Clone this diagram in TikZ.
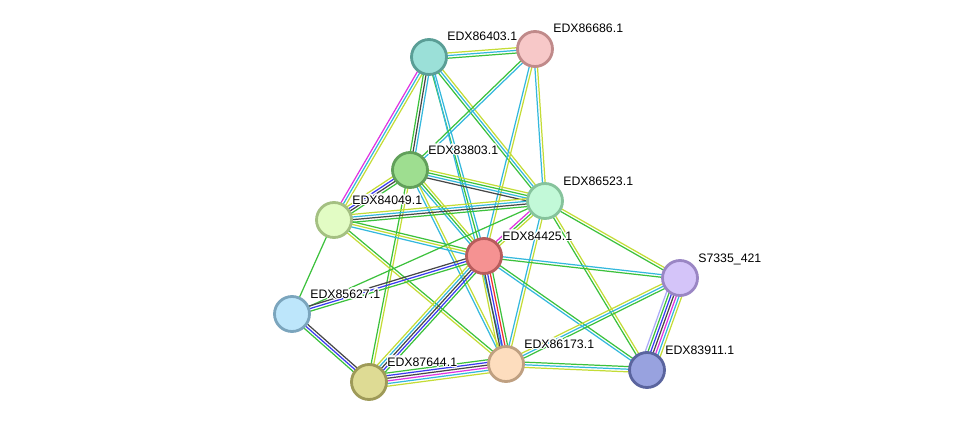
\documentclass[tikz,border=0pt]{standalone}
\usepackage{fontspec}
\setmainfont{Liberation Sans}
\usepackage{contour}
\contourlength{0.7pt}
\usetikzlibrary{calc,backgrounds}

\definecolor{tm}{HTML}{C4DC36}
\definecolor{db}{HTML}{34B8DD}
\definecolor{nb}{HTML}{3CC13C}
\definecolor{co}{HTML}{474747}
\definecolor{ex}{HTML}{E034E0}
\definecolor{oc}{HTML}{3A3AF0}
\definecolor{fu}{HTML}{F0302F}
\definecolor{ho}{HTML}{ABABF8}

\definecolor{f86403}{HTML}{9BE0D8}\definecolor{d86403}{HTML}{5A9E96}
\definecolor{f86686}{HTML}{F7C8C8}\definecolor{d86686}{HTML}{C08A8A}
\definecolor{f83803}{HTML}{9EDE90}\definecolor{d83803}{HTML}{61A05A}
\definecolor{f86523}{HTML}{C2F9D8}\definecolor{d86523}{HTML}{86C39C}
\definecolor{f84049}{HTML}{E2FCC4}\definecolor{d84049}{HTML}{A4C082}
\definecolor{f84425}{HTML}{F59292}\definecolor{d84425}{HTML}{B85C5C}
\definecolor{f7335}{HTML}{D4C4F9}\definecolor{d7335}{HTML}{9A86C4}
\definecolor{f85627}{HTML}{BDE6FB}\definecolor{d85627}{HTML}{7BA5BD}
\definecolor{f87644}{HTML}{DEDB94}\definecolor{d87644}{HTML}{9E9A58}
\definecolor{f86173}{HTML}{FDDDBE}\definecolor{d86173}{HTML}{BFA081}
\definecolor{f83911}{HTML}{98A2DF}\definecolor{d83911}{HTML}{5A649E}

\newcommand{\assoc}[3]{%
  \foreach \c [count=\k] in {#3} {\xdef\nlines{\k}}%
  \foreach \c [count=\k] in {#3} {%
    \pgfmathsetmacro\lnoff{(\k-(\nlines+1)/2)*1.5}%
    \draw[ln, \c] ($(#1)!\lnoff pt!90:(#2)$) -- ($(#2)!\lnoff pt!-90:(#1)$);
  }%
}

\begin{document}
\begin{tikzpicture}[x=0.02cm, y=-0.02cm,
  prot/.style={circle, minimum size=0.7cm, inner sep=0, line width=1.6pt},
  lbl/.style={font=\fontsize{7}{8}\selectfont, anchor=base west, inner sep=0},
  ln/.style={line width=0.7pt}]
\useasboundingbox (0,0) rectangle (976,429);

\foreach \id/\x/\y/\t in {86403/429/57/EDX86403.1, 86686/535/49/EDX86686.1,
    83803/410/170/EDX83803.1, 86523/545/201/EDX86523.1, 84049/334/220/EDX84049.1,
    84425/484/256/EDX84425.1, 7335/680/278/S7335\_421, 85627/292/314/EDX85627.1,
    87644/369/382/EDX87644.1, 86173/506/364/EDX86173.1, 83911/647/370/EDX83911.1} {
  \node[prot, fill=f\id, draw=d\id] (p\id) at (\x,\y) {};
  \node[lbl] (l\id) at ([shift={(18,-16)}]p\id.center) {\contour{white}{\t}};
}

\begin{pgfonlayer}{background}
\assoc{p86403}{p86686}{nb,db,tm}
\assoc{p86403}{p84049}{ex,db,tm}
\assoc{p86403}{p83803}{nb,co,db}
\assoc{p86403}{p84425}{nb,db}
\assoc{p86403}{p86523}{nb,db,tm}
\assoc{p86403}{p86173}{db}
\assoc{p86686}{p83803}{nb,db}
\assoc{p86686}{p84425}{db,tm}
\assoc{p86686}{p86523}{db,tm}
\assoc{p83803}{p84049}{tm,oc,co,nb}
\assoc{p83803}{p86523}{co,db,nb,tm}
\assoc{p83803}{p84425}{db,nb,tm}
\assoc{p83803}{p86173}{db,tm}
\assoc{p83803}{p87644}{nb,tm}
\assoc{p84049}{p86523}{nb,co,db,tm}
\assoc{p84049}{p84425}{db,tm,nb}
\assoc{p84049}{p86173}{tm,nb}
\assoc{p84049}{p85627}{nb}
\assoc{p86523}{p84425}{ex,nb,tm}
\assoc{p86523}{p85627}{nb}
\assoc{p86523}{p7335}{nb,tm}
\assoc{p86523}{p83911}{nb,tm}
\assoc{p86523}{p86173}{db,tm}
\assoc{p84425}{p85627}{co,oc,nb}
\assoc{p84425}{p87644}{tm,db,co,oc,nb}
\assoc{p84425}{p86173}{tm,co,oc,fu,nb}
\assoc{p84425}{p7335}{nb,db}
\assoc{p84425}{p83911}{db,nb}
\assoc{p85627}{p87644}{nb,oc,co}
\assoc{p87644}{p86173}{tm,db,ex,co,oc,nb}
\assoc{p86173}{p83911}{tm,db,nb}
\assoc{p86173}{p7335}{nb,db,tm}
\assoc{p7335}{p83911}{ho,nb,oc,co,ex,db,tm}
\end{pgfonlayer}
\end{tikzpicture}
\end{document}
